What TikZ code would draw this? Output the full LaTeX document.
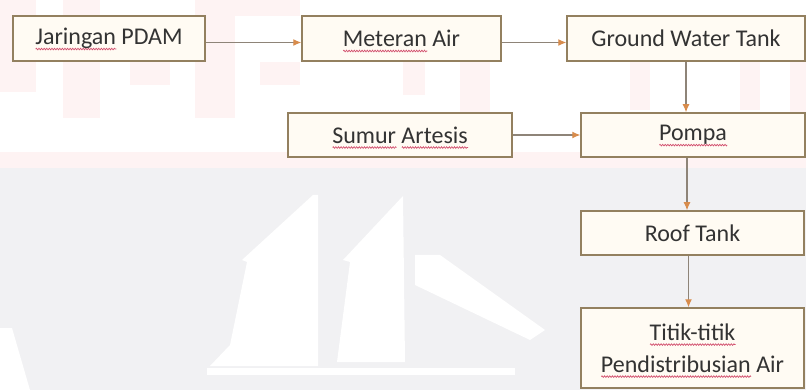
\documentclass[tikz,border=0pt]{standalone}
\usepackage{fontspec}
\setmainfont{Carlito}
\usetikzlibrary{arrows.meta,decorations.pathmorphing}

\definecolor{boxline}{HTML}{93805F}
\definecolor{boxfill}{HTML}{FFFBF3}
\definecolor{ink}{HTML}{333333}
\definecolor{wire}{HTML}{8E8478}
\definecolor{tip}{HTML}{D88C4C}
\definecolor{wavecol}{HTML}{D2506E}
\definecolor{paper}{HTML}{F1F1F3}
\definecolor{blush}{HTML}{FEF3F3}

% red wavy proofing underline below a word
\newsavebox\wavebox
\newcommand\spellwave[1]{%
  \sbox\wavebox{#1}\edef\wavelen{\the\wd\wavebox}%
  \leavevmode\rlap{\raisebox{-5.5pt}[0pt][0pt]{\tikz[x=1pt,y=1pt]
    \draw[wavecol, line width=0.7pt, decorate,
      decoration={zigzag, amplitude=0.8pt, segment length=2.6pt}]
      (0,0) -- (\wavelen,0);}}%
  \usebox\wavebox}

\tikzset{
  stage/.style={draw=boxline, line width=1.5pt, fill=boxfill, text=ink,
    font=\fontsize{24}{32}\selectfont, inner sep=0pt, align=center},
  flow/.style={draw=wire, line width=1.1pt,
    -{Latex[length=8pt,width=7pt,color=tip]}},
}

\begin{document}
\begin{tikzpicture}[x=1pt,y=-1pt]
\useasboundingbox (0,0) rectangle (806,390);

% background: light band on top, grey lower part
\fill[paper] (0,0) rectangle (806,390);
\fill[white] (0,0) rectangle (806,152);
\fill[blush] (0,152) rectangle (806,168);
% faint lettering
\fill[blush] (0,0) rectangle (36,92);
\fill[blush] (63,0) rectangle (100,118);
\fill[blush] (130,62) rectangle (170,85);
\fill[blush] (195,0) rectangle (235,118);
\fill[blush] (260,62) rectangle (300,85);
\fill[blush] (210,0) rectangle (300,16);
\fill[blush] (403,62) rectangle (425,95);
\fill[blush] (460,62) rectangle (490,118);
\fill[blush] (630,62) rectangle (650,110);
\fill[blush] (740,62) rectangle (760,110);
\fill[blush] (790,62) rectangle (806,118);
% sailing ship
\fill[white] (313,195) -- (242,260) -- (247,262) -- (230,345) -- (210,366)
  -- (318,366) -- (318,195) -- cycle;
\fill[white] (403,196) -- (343,260) -- (350,262) -- (337,362)
  -- (405,362) -- cycle;
\fill[white] (207,368) rectangle (515,375);
\fill[white] (415,255) -- (440,255) -- (545,330) -- (530,340) -- (415,285) -- cycle;
\fill[white] (0,328) -- (12,328) -- (30,390) -- (0,390) -- cycle;

% stages
\node[stage, minimum width=192pt, minimum height=45pt] (jar) at (109,38.5)
  {\spellwave{Jaringan} PDAM};
\node[stage, minimum width=199pt, minimum height=45pt] (met) at (401.5,38.5)
  {\spellwave{Meteran} Air};
\node[stage, minimum width=238pt, minimum height=45pt] (gwt) at (686,38.5)
  {Ground Water Tank};
\node[stage, minimum width=224pt, minimum height=44pt] (sum) at (400,135)
  {\spellwave{Sumur} \spellwave{Artesis}};
\node[stage, minimum width=224pt, minimum height=44pt] (pom) at (693,135)
  {\spellwave{Pompa}};
\node[stage, minimum width=223pt, minimum height=44pt] (roof) at (692.5,233)
  {Roof Tank};
\node[stage, minimum width=223pt, minimum height=80pt] (tit) at (692.5,348)
  {\spellwave{Titik-titik}\\\spellwave{Pendistribusian} Air};

% flow connections
\draw[flow] ([yshift=-4pt]jar.east) -- ([yshift=-4pt]met.west);
\draw[flow] ([yshift=-4pt]met.east) -- ([yshift=-4pt]gwt.west);
\draw[flow] (sum.east) -- (pom.west);
\draw[flow] (gwt.south) -- (gwt.south |- pom.north);
\draw[flow] ([xshift=-6pt]pom.south) -- ([xshift=-6pt]pom.south |- roof.north);
\draw[flow] ([xshift=-4pt]roof.south) -- ([xshift=-4pt]roof.south |- tit.north);
\end{tikzpicture}
\end{document}
